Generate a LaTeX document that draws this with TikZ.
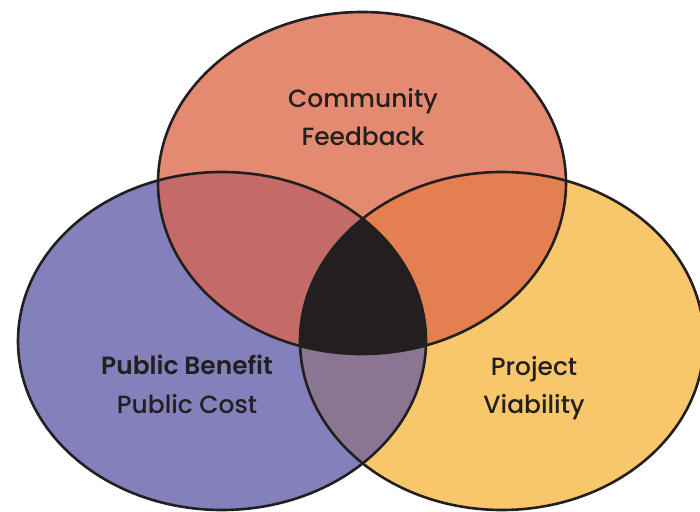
\documentclass[tikz,border=0pt]{standalone}
\usepackage{fontspec}
\setmainfont{Poppins}[UprightFont={* Medium},BoldFont={* SemiBold}]
\definecolor{cTop}{HTML}{E48A70}
\definecolor{cLeft}{HTML}{8380BC}
\definecolor{cRight}{HTML}{F8C76C}
\definecolor{cTL}{HTML}{C46A68}
\definecolor{cTR}{HTML}{E47F50}
\definecolor{cLR}{HTML}{8A7593}
\definecolor{cAll}{HTML}{231F20}
\tikzset{
  outline/.style={draw=cAll,line width=2.6bp},
  lbl/.style={text=cAll,font=\fontsize{25}{38}\selectfont,align=center,inner sep=0pt,anchor=base}
}
\newcommand{\topE}{(362,183) ellipse [x radius=204,y radius=171]}
\newcommand{\leftE}{(222,341) ellipse [x radius=204,y radius=169]}
\newcommand{\rightE}{(502,341) ellipse [x radius=202,y radius=169]}
\begin{document}
\begin{tikzpicture}[x=1bp,y=-1bp]
\useasboundingbox (0,0) rectangle (700,512);
\fill[cTop] \topE;
\fill[cLeft] \leftE;
\fill[cRight] \rightE;
\begin{scope}\clip \topE; \fill[cTL] \leftE; \end{scope}
\begin{scope}\clip \topE; \fill[cTR] \rightE; \end{scope}
\begin{scope}\clip \leftE; \fill[cLR] \rightE; \end{scope}
\begin{scope}\clip \topE; \clip \leftE; \fill[cAll] \rightE; \end{scope}
\draw[outline] \topE;
\draw[outline] \leftE;
\draw[outline] \rightE;
\node[lbl] (comm) at (363,108) {Community};
\node[lbl] (feed) at (363,146) {Feedback};
\node[lbl,font=\fontsize{25}{38}\selectfont\bfseries] (pb) at (187,374) {Public Benefit};
\node[lbl] (pc) at (187,413) {Public Cost};
\node[lbl] (proj) at (534,375) {Project};
\node[lbl] (via) at (534,413) {Viability};
\end{tikzpicture}
\end{document}
